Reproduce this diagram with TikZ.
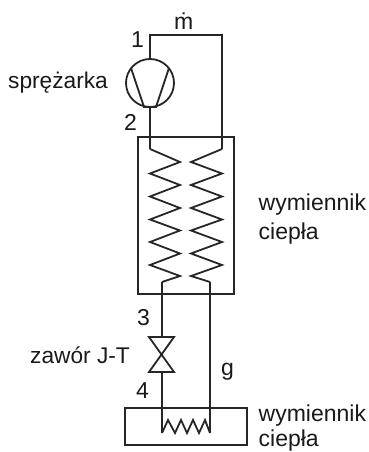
\documentclass[tikz,border=0pt]{standalone}
\usepackage{fontspec}
\setmainfont{Liberation Sans}
\usetikzlibrary{calc}

\begin{document}
\begin{tikzpicture}[
  x=1pt,y=-1pt,
  pipe/.style={draw=black!85, line width=1.8pt, line join=miter},
  unit/.style={draw=black!85, line width=1.8pt, inner sep=0pt, outer sep=0pt},
  lbl/.style={font=\fontsize{22.7}{26}\selectfont, inner sep=0pt, anchor=base west, text=black!90},
  lblb/.style={lbl, font=\fontsize{23}{26}\selectfont}
]
\useasboundingbox (0,0) rectangle (369,452);
% units
\node[unit, minimum width=96pt, minimum height=157pt] (hx) at (186,215.5) {};
\node[unit, minimum width=122pt, minimum height=37pt] (evap) at (186,426.5) {};
\node[unit, circle, minimum size=48pt] (comp) at (150,83) {};
% corners of the pipe
\coordinate (c1) at (150,35);
\coordinate (c2) at (222,35);
\coordinate (in1) at (150,149);
\coordinate (in2) at (222,149);
\coordinate (out1) at (162,282);
\coordinate (out2) at (210,282);
\coordinate (vt) at (162,337);
\coordinate (vb) at (162,372);
\coordinate (e1) at (162,433);
\coordinate (e2) at (210,433);
% compressor
\draw[pipe] (comp.north) -- (c1) -- (c2) -- (in2);
\draw[pipe] (comp.south) -- (in1);
\draw[pipe] (131,68) -- (144,107) -- (156,107) -- (169,68);
% coils
\draw[pipe] (in1) -- (180,162) -- (150,173.5) -- (180,185) -- (150,196.5) -- (180,208) -- (150,219.5) -- (180,230.5) -- (150,242) -- (180,253.5) -- (150,265) -- (180,276) -- (out1);
\draw[pipe] (in2) -- (191,162) -- (222,173.5) -- (191,185) -- (222,196.5) -- (191,208) -- (222,219.5) -- (191,230.5) -- (222,242) -- (191,253.5) -- (222,265) -- (191,276) -- (out2);
% valve and lines down
\draw[pipe] (out1) -- (vt);
\draw[pipe] (149,337) -- (174,337) -- (149,372) -- (174,372) -- cycle;
\draw[pipe] (vb) -- (e1);
\draw[pipe] (out2) -- (e2);
\draw[pipe] (e1) -- (168,420) -- (175,433) -- (181,420) -- (187,433) -- (193,420) -- (199,433) -- (205,420) -- (e2);
% labels
\node[lblb] (n1) at (131,48) {1};
\node[lblb] (n2) at (124,130) {2};
\node[lblb] (n3) at (137,325) {3};
\node[lblb] (n4) at (136,398) {4};
\node[lblb] (g) at (221,375) {g};
\node[lblb] (m) at (174,30) {ṁ};
\node[lbl] (spr) at (8,88) {sprężarka};
\node[lbl] (zaw) at (30,363) {zawór J-T};
\node[lblb] (wym1) at (258.5,210) {wymiennik};
\node[lblb] (cie1) at (258.5,239) {ciepła};
\node[lblb] (wym2) at (258.5,421) {wymiennik};
\node[lblb] (cie2) at (258.5,446.5) {ciepła};
\end{tikzpicture}
\end{document}
